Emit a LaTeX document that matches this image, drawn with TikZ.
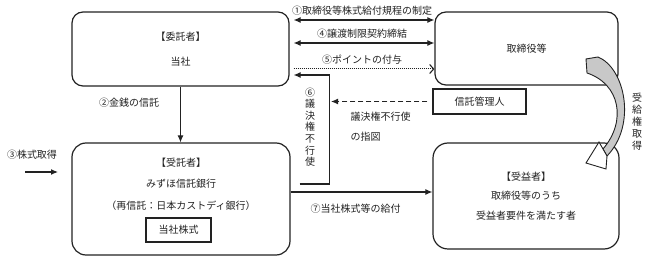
\documentclass[tikz,border=0pt]{standalone}
\usepackage{fontspec}
\setmainfont{Noto Sans CJK JP}
\usetikzlibrary{arrows.meta,calc}
\definecolor{Band}{HTML}{C8C8C8}
\definecolor{Ink}{HTML}{222222}

\begin{document}
\begin{tikzpicture}[x=1pt,y=-1pt,Ink,font=\fontsize{10}{12}\selectfont,
  box/.style={draw,line width=1.2pt,rounded corners=11pt,inner sep=0pt,align=center},
  arr/.style={line width=1.1pt,-{Latex[length=7pt,width=6pt]}},
  dbl/.style={line width=1.1pt,{Latex[length=7pt,width=6pt]}-{Latex[length=7pt,width=6pt]}}]
  \useasboundingbox (0,0) rectangle (648,261);
  \node[box,minimum width=217pt,minimum height=74pt,font=\fontsize{10}{25}\selectfont] (itaku) at (180.5,49) {【委託者】\\当社};
  \node[box,minimum width=183pt,minimum height=73pt] (torishimari) at (526.5,48.5) {取締役等};
  \node[draw,line width=1.2pt,minimum width=93pt,minimum height=25pt] (kanri) at (479.5,101.5) {信託管理人};
  \node[box,minimum width=218pt,minimum height=112pt,rounded corners=14pt] (jutaku) at (181,199) {};
  \node[align=center,font=\fontsize{10}{21.5}\selectfont] (jutakutxt) at (181,184) {【受託者】\\みずほ信託銀行\\（再信託：日本カストディ銀行）};
  \node[draw,line width=1.2pt,minimum width=65pt,minimum height=24pt] (kabu) at (178.5,230) {当社株式};
  \node[box,minimum width=186pt,minimum height=106pt,rounded corners=15pt,font=\fontsize{10}{19.5}\selectfont] (jueki) at (526,196) {【受益者】\\取締役等のうち\\受益者要件を満たす者};

  \draw[dbl,shorten <=4pt] ([yshift=29pt]itaku.east) -- ([yshift=29pt]itaku.east -| torishimari.west)
    node[midway,above=1pt] {①取締役等株式給付規程の制定};
  \draw[dbl,shorten <=4pt] ([yshift=6pt]itaku.east) -- ([yshift=6pt]itaku.east -| torishimari.west)
    node[midway,above=1pt] {④譲渡制限契約締結};
  \draw[line width=1pt,densely dotted,shorten <=4pt,-{Straight Barb[length=4pt,width=9pt,line width=1.1pt]}]
    ([yshift=-20pt]itaku.east) -- ([yshift=-20pt]itaku.east -| torishimari.west)
    node[midway,above=1pt] {⑤ポイントの付与};
  \draw[arr] ([xshift=9pt,yshift=15pt]jutaku.east) -| ([xshift=40pt,yshift=-26pt]itaku.east) -- ([xshift=4pt,yshift=-26pt]itaku.east);
  \node[align=center,font=\fontsize{10}{11.6}\selectfont] (gike) at (310,127) {⑥\\議\\決\\権\\不\\行\\使};

  \coordinate (sashizu) at (331,101.5);
  \draw[arr,dash pattern=on 5pt off 3pt] ([xshift=-5pt]kanri.west) -- (sashizu);
  \node[anchor=west,align=left,font=\fontsize{10}{20}\selectfont] (sashizutxt) at (347,127) {議決権不行使\\の指図};

  \draw[arr] (itaku.south) -- (itaku.south |- jutaku.north);
  \node (kinsen) at (129,103) {②金銭の信託};

  \coordinate (kaiA) at (25,172);
  \coordinate (kaiB) at (58,172);
  \draw[arr] (kaiA) -- (kaiB);
  \node (kai) at (32,155) {③株式取得};

  \draw[arr] ([yshift=7pt]jutaku.east) -- ([yshift=7pt]jutaku.east -| jueki.west)
    node[midway,below=8pt,xshift=-6pt] {⑦当社株式等の給付};

  \filldraw[fill=Band,line width=0.9pt] (586,59) -- (598,57) .. controls (625,68) and (637,125) .. (607,156)
    -- (603,149) .. controls (627,121) and (620,84) .. (587,73) -- cycle;
  \filldraw[fill=white,line width=0.9pt,line join=miter] (603,149) -- (599,142) -- (586,163) -- (606,169) -- (607,156) -- cycle;
  \node[align=center,font=\fontsize{10}{12}\selectfont] (jukyu) at (637,122) {受\\給\\権\\取\\得};
\end{tikzpicture}
\end{document}
